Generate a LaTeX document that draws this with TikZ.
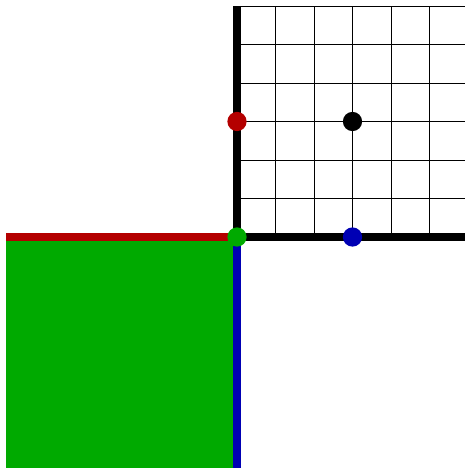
\documentclass[tikz,border=0pt]{standalone}
\definecolor{myred}{RGB}{180,0,0}
\definecolor{mygreen}{RGB}{0,170,0}
\definecolor{myblue}{RGB}{0,0,180}
\begin{document}
\begin{tikzpicture}[x=1cm,y=1cm,
  thickln/.style={line width=5.2pt, line cap=butt},
  gridln/.style={line width=0.7pt, black},
  dotnode/.style={circle, inner sep=0pt, minimum size=0.5cm, draw=none}]
\useasboundingbox (-6.156,-6) rectangle (5.922,6.156);
\begin{scope}
\clip (-6.156,-6) rectangle (5.922,6.156);
\draw[gridln] (0,0) grid (6,6);
\fill[mygreen] (-6,-6) rectangle (0,0);
\draw[thickln, black] (0,0) -- (0,6);
\draw[thickln, black] (0,0) -- (6,0);
\draw[thickln, myred] (-6,0) -- (0,0);
\draw[thickln, myblue] (0,0) -- (0,-6);
\end{scope}
\node[dotnode, fill=myred] (r) at (0,3) {};
\node[dotnode, fill=black] (k) at (3,3) {};
\node[dotnode, fill=myblue] (b) at (3,0) {};
\node[dotnode, fill=mygreen] (g) at (0,0) {};
\end{tikzpicture}
\end{document}
